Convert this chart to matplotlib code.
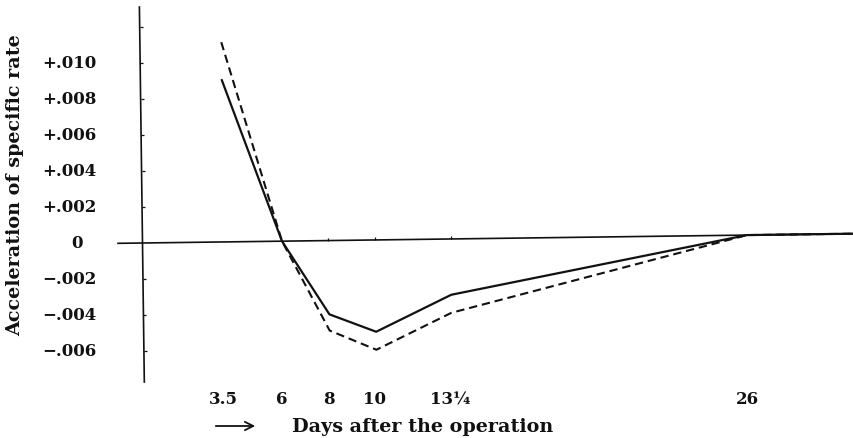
import matplotlib
matplotlib.use("Agg")
import matplotlib.pyplot as plt
from matplotlib.lines import TICKRIGHT, TICKUP
from matplotlib.transforms import Affine2D

# Acceleration of the specific growth rate after the operation
days = [3.5, 6, 8, 10, 13.25, 26, 30.6]
solid_vals = [0.0090, 0.0, -0.0041, -0.0051, -0.0031, 0.0, 0.0]
dashed_vals = [0.0111, 0.0, -0.0050, -0.0061, -0.0041, 0.0, 0.0]

x_tick_days = [3.5, 6, 8, 10, 13.25, 26]
x_tick_labels = ["3.5", "6", "8", "10", "13¼", "26"]
y_tick_vals = [0.010, 0.008, 0.006, 0.004, 0.002, 0.0, -0.002, -0.004, -0.006]
y_tick_labels = ["+.010", "+.008", "+.006", "+.004", "+.002", "0",
                 "−.002", "−.004", "−.006"]
y_axis_marks = [-0.006, -0.004, -0.002, 0.002, 0.004, 0.006, 0.008, 0.010, 0.012]
x_axis_marks = [8, 10, 13.25]

y_label = "Acceleration of specific rate"
x_label = "Days after the operation"

W, H = 854, 439
PX_DAY = 23.25          # pixels per day
PX_UNIT = 18000.0       # pixels per unit of acceleration
X0 = 6 - 282 / PX_DAY   # day at the left edge
Y_TOP = 244 / PX_UNIT   # value at the top edge
TILT = 0.75             # slight skew of the printed plate, degrees

plt.rcParams["font.family"] = ["DejaVu Serif"]
plt.rcParams["lines.scale_dashes"] = False

fig = plt.figure(figsize=(W / 100, H / 100), dpi=100)
ax = fig.add_axes([0, 0, 1, 1])
ax.set_xlim(X0, X0 + W / PX_DAY)
ax.set_ylim(Y_TOP - H / PX_UNIT, Y_TOP)
ax.axis("off")


def px_x(p):
    return X0 + p / PX_DAY


def px_y(p):
    return Y_TOP - p / PX_UNIT


ox, oy = ax.transData.transform((0, 0))
skew = ax.transData + Affine2D().rotate_deg_around(ox, oy, TILT)

ink = "#111111"
fs_tick = 12
fs_title = 13.8

# axes drawn by hand
ax.plot([px_x(118), px_x(W + 5)], [0, 0], color=ink, lw=1.2, transform=skew)
ax.plot([0, 0], [px_y(383), px_y(8)], color=ink, lw=1.2, transform=skew)
ax.plot([0] * len(y_axis_marks), y_axis_marks, ls="none", marker=TICKRIGHT,
        ms=2.5, mew=0.9, color=ink, transform=skew)
ax.plot(x_axis_marks, [0] * len(x_axis_marks), ls="none", marker=TICKUP,
        ms=2, mew=0.9, color=ink, transform=skew)

# the two curves
ax.plot(days, solid_vals, color=ink, lw=1.6, solid_capstyle="round",
        transform=skew)
ax.plot(days, dashed_vals, color=ink, lw=1.5, dashes=(6, 3.5), transform=skew)

# tick labels
for v, lab in zip(y_tick_vals, y_tick_labels):
    if lab == "0":
        ax.text(px_x(77), v, lab, ha="center", va="center", fontsize=fs_tick,
                fontweight="bold", color=ink)
    else:
        ax.text(px_x(97), v, lab, ha="right", va="center", fontsize=fs_tick,
                fontweight="bold", color=ink)

for d, lab in zip(x_tick_days, x_tick_labels):
    ax.text(d, px_y(400), lab, ha="center", va="center", fontsize=fs_tick,
            fontweight="bold", color=ink)

# axis titles
ax.text(px_x(15), px_y(185), y_label, rotation=90, ha="center", va="center",
        fontsize=fs_title, fontweight="bold", color=ink)
ax.text(px_x(292), px_y(427), x_label, ha="left", va="center",
        fontsize=fs_title, fontweight="bold", color=ink)
ax.annotate("", xy=(px_x(258), px_y(427)), xytext=(px_x(213), px_y(427)),
            arrowprops=dict(arrowstyle="->", lw=1.3, color=ink,
                            mutation_scale=15))

fig.savefig("out.png", dpi=100)
